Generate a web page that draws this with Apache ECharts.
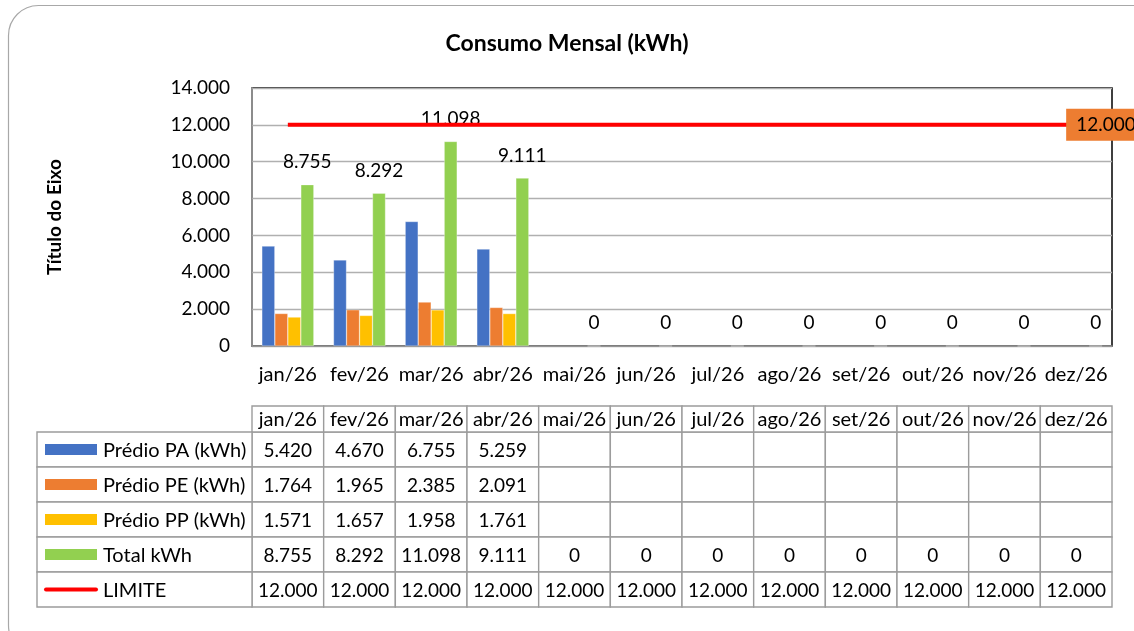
<!DOCTYPE html>
<html>
<head>
<meta charset="utf-8">
<script src="https://cdn.jsdelivr.net/npm/echarts@6/dist/echarts.min.js"></script>
<style>
  html, body { margin: 0; padding: 0; background: #ffffff; }
  #chart { width: 1134px; height: 631px; }
</style>
</head>
<body>
<div id="chart"></div>
<script>
// ---------- DATA ----------
const months = ['jan/26','fev/26','mar/26','abr/26','mai/26','jun/26','jul/26','ago/26','set/26','out/26','nov/26','dez/26'];
const predioPA = [5420, 4670, 6755, 5259, null, null, null, null, null, null, null, null];
const predioPE = [1764, 1965, 2385, 2091, null, null, null, null, null, null, null, null];
const predioPP = [1571, 1657, 1958, 1761, null, null, null, null, null, null, null, null];
const totalKWh = [8755, 8292, 11098, 9111, 0, 0, 0, 0, 0, 0, 0, 0];
const limite   = [12000, 12000, 12000, 12000, 12000, 12000, 12000, 12000, 12000, 12000, 12000, 12000];
const seriesNames = ['Prédio PA (kWh)', 'Prédio PE (kWh)', 'Prédio PP (kWh)', 'Total kWh', 'LIMITE'];
const yMin = 0, yMax = 14000, yStep = 2000;
const titleText = 'Consumo Mensal (kWh)';
const yAxisTitle = 'Título do Eixo';

// ---------- STYLE ----------
const colors = ['#4472C4', '#ED7D31', '#FFC000', '#92D050', '#FF0000'];
const FONT = 'Lato, "Noto Sans", sans-serif';
const TXT = '#000000';
const BORDER = '#9c9c9c';
const LABEL_COL_W = 215;
const HEADER_H = 26;
const NUM_FS = 19;
const WORD_FS = 20;

const fmt = v => (v === null || v === undefined) ? '' : String(v).replace(/\B(?=(\d{3})+(?!\d))/g, '.');
const rows = [predioPA, predioPE, predioPP, totalKWh, limite];

// table data built from arrays
const cellData = [];
rows.forEach((arr, r) => arr.forEach((v, c) => cellData.push([c, r])));
const cellText = (c, r) => fmt(rows[r][c]);
const labelData = seriesNames.map((n, r) => [0, r]);
const headerData = months.map((m, c) => [c, 0]);

const chart = echarts.init(document.getElementById('chart'), null, { renderer: 'canvas' });

const barSeries = [predioPA, predioPE, predioPP, totalKWh].map((arr, i) => ({
  name: seriesNames[i],
  type: 'bar',
  xAxisIndex: 0, yAxisIndex: 0,
  data: arr,
  barWidth: 13,
  barGap: '0%',
  itemStyle: { color: colors[i], borderColor: 'rgba(255,255,255,0.6)', borderWidth: 0.5 },
  label: i === 3 ? {
    show: true, position: 'top', distance: 13,
    fontFamily: FONT, fontSize: NUM_FS, color: TXT,
    formatter: p => fmt(p.value)
  } : { show: false },
  z: 2
}));

const option = {
  animation: false,
  backgroundColor: 'transparent',
  textStyle: { fontFamily: FONT },
  graphic: [{
    type: 'rect', z: -10, silent: true,
    shape: { x: 8.5, y: 5.5, width: 1160, height: 650, r: 30 },
    style: { fill: '#ffffff', stroke: '#a8a8a8', lineWidth: 1.2 }
  }],
  title: {
    text: titleText, left: 'center', top: 27,
    textStyle: { fontFamily: FONT, fontSize: 23, fontWeight: 'bold', color: TXT }
  },
  grid: [
    { left: 252, right: 22, top: 88, height: 258, show: true, borderColor: '#000', borderWidth: 1.5, backgroundColor: 'transparent' },
    { left: 252, right: 22, top: 432, height: 175 }
  ],
  xAxis: [
    {
      type: 'category', gridIndex: 0, data: months, boundaryGap: true,
      axisLine: { show: true, lineStyle: { color: '#8a8a8a', width: 1.6 } },
      axisTick: { show: false },
      axisLabel: { fontFamily: FONT, fontSize: WORD_FS, color: TXT, margin: 19, interval: 0 },
      splitLine: { show: false }
    },
    {
      type: 'category', gridIndex: 1, data: months, boundaryGap: true, show: false
    }
  ],
  yAxis: [
    {
      type: 'value', gridIndex: 0, min: yMin, max: yMax, interval: yStep,
      name: yAxisTitle, nameLocation: 'middle', nameGap: 188, nameRotate: 90,
      nameTextStyle: { fontFamily: FONT, fontSize: 19, fontWeight: 'bold', color: TXT },
      axisLine: { show: true, lineStyle: { color: '#a0a0a0', width: 1.6 } },
      axisTick: { show: false },
      axisLabel: { fontFamily: FONT, fontSize: NUM_FS, color: TXT, margin: 22, formatter: v => fmt(v) },
      splitLine: { show: true, lineStyle: { color: '#b0b0b0', width: 1.3 } }
    },
    {
      type: 'category', gridIndex: 1, data: seriesNames, inverse: true, show: false
    }
  ],
  series: [
    ...barSeries,
    {
      name: seriesNames[4],
      type: 'line',
      xAxisIndex: 0, yAxisIndex: 0,
      data: limite,
      symbol: 'none', showSymbol: false,
      lineStyle: { color: colors[4], width: 4 },
      itemStyle: { color: colors[4] },
      endLabel: {
        show: true, distance: 0, offset: [-10, 0],
        backgroundColor: colors[1], padding: [7, 10, 6, 10],
        fontFamily: FONT, fontSize: NUM_FS, color: TXT,
        formatter: p => fmt(p.value)
      },
      z: 3
    },
    // table: value cells
    {
      type: 'custom', xAxisIndex: 1, yAxisIndex: 1, silent: true, clip: false,
      data: cellData,
      renderItem: (params, api) => {
        const c = api.value(0), r = api.value(1);
        const p = api.coord([c, r]);
        const s = api.size([1, 1]);
        return {
          type: 'group',
          children: [
            { type: 'rect', shape: { x: p[0] - s[0] / 2, y: p[1] - s[1] / 2, width: s[0], height: s[1] },
              style: { fill: '#fff', stroke: BORDER, lineWidth: 1.4 } },
            { type: 'text', style: { x: p[0], y: p[1] + 1, text: cellText(c, r), align: 'center', verticalAlign: 'middle',
              fontFamily: FONT, fontSize: NUM_FS, fill: TXT } }
          ]
        };
      }
    },
    // table: header cells
    {
      type: 'custom', xAxisIndex: 1, yAxisIndex: 1, silent: true, clip: false,
      data: headerData,
      renderItem: (params, api) => {
        const c = api.value(0);
        const p = api.coord([c, 0]);
        const s = api.size([1, 1]);
        const top = p[1] - s[1] / 2 - HEADER_H;
        return {
          type: 'group',
          children: [
            { type: 'rect', shape: { x: p[0] - s[0] / 2, y: top, width: s[0], height: HEADER_H },
              style: { fill: '#fff', stroke: BORDER, lineWidth: 1.4 } },
            { type: 'text', style: { x: p[0], y: top + HEADER_H / 2 + 1, text: months[c], align: 'center', verticalAlign: 'middle',
              fontFamily: FONT, fontSize: WORD_FS, fill: TXT } }
          ]
        };
      }
    },
    // table: row label cells with legend keys
    {
      type: 'custom', xAxisIndex: 1, yAxisIndex: 1, silent: true, clip: false,
      data: labelData,
      renderItem: (params, api) => {
        const r = api.value(1);
        const p = api.coord([0, r]);
        const s = api.size([1, 1]);
        const right = p[0] - s[0] / 2;
        const left = right - LABEL_COL_W;
        const top = p[1] - s[1] / 2;
        const key = r < 4
          ? { type: 'rect', shape: { x: left + 8, y: p[1] - 5.5, width: 52, height: 11 }, style: { fill: colors[r] } }
          : { type: 'line', shape: { x1: left + 9, y1: p[1], x2: left + 59, y2: p[1] },
              style: { stroke: colors[4], lineWidth: 4, lineCap: 'round' } };
        return {
          type: 'group',
          children: [
            { type: 'rect', shape: { x: left, y: top, width: LABEL_COL_W, height: s[1] },
              style: { fill: '#fff', stroke: BORDER, lineWidth: 1.4 } },
            key,
            { type: 'text', style: { x: left + 66, y: p[1] + 1, text: seriesNames[r], align: 'left', verticalAlign: 'middle',
              fontFamily: FONT, fontSize: WORD_FS, fill: TXT } }
          ]
        };
      }
    }
  ]
};

chart.setOption(option);
</script>
</body>
</html>
